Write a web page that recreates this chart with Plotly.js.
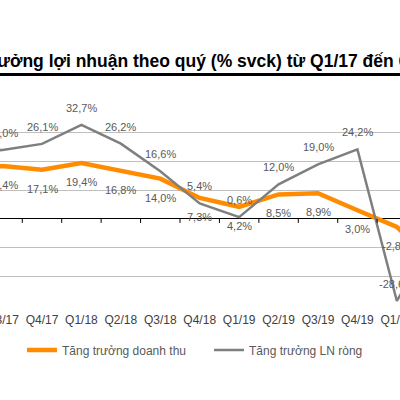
<!DOCTYPE html>
<html>
<head>
<meta charset="utf-8">
<script src="https://cdn.plot.ly/plotly-3.0.1.min.js"></script>
<style>
html,body{margin:0;padding:0;background:#fff;}
#wrap{position:relative;width:400px;height:400px;overflow:hidden;}
#chart{position:absolute;left:-140px;top:0;width:620px;height:400px;}
</style>
</head>
<body>
<div id="wrap"><div id="chart"></div></div>
<script>
const categories = ["Q1/17","Q2/17","Q3/17","Q4/17","Q1/18","Q2/18","Q3/18","Q4/18","Q1/19","Q2/19","Q3/19","Q4/19","Q1/20","Q2/20"];
const revenueGrowth = [15.0, 17.5, 18.4, 17.1, 19.4, 16.8, 14.0, 7.3, 4.2, 8.5, 8.9, 3.0, -2.8, -16.0];
const profitGrowth  = [20.0, 23.0, 24.0, 26.1, 32.7, 26.2, 16.6, 5.4, 0.6, 12.0, 19.0, 24.2, -28.6, -5.0];
const seriesNames = ["Tăng trưởng doanh thu", "Tăng trưởng LN ròng"];
const titleText = "Tăng trưởng lợi nhuận theo quý (% svck) từ Q1/17 đến Q2/20";

// layout geometry (div is offset -140px to reproduce the cropped view)
const W = 620, H = 400, OFF = 140;
const ML = 44, MR = 24, MT = 104, MB = 95;
const PW = W - ML - MR, PH = H - MT - MB;
const xp = px => (px + OFF - ML) / PW;   // crop px -> paper x
const yp = py => (MT + PH - py) / PH;    // crop px -> paper y

const fmt = v => v.toFixed(1).replace('.', ',') + '%';

const traces = [
  {x: categories, y: revenueGrowth, name: seriesNames[0], type: 'scatter', mode: 'lines',
   line: {color: '#FF8C00', width: 4.5}},
  {x: categories, y: profitGrowth, name: seriesNames[1], type: 'scatter', mode: 'lines',
   line: {color: '#7F7F7F', width: 2.5}}
];

const annotations = [];
categories.forEach((c, i) => {
  annotations.push({x: c, y: revenueGrowth[i], xref: 'x', yref: 'y', text: fmt(revenueGrowth[i]),
    showarrow: false, yshift: -19, font: {family: 'Liberation Sans, Arial', size: 11, color: '#595959'}});
  annotations.push({x: c, y: profitGrowth[i], xref: 'x', yref: 'y', text: fmt(profitGrowth[i]),
    showarrow: false, yshift: 17, font: {family: 'Liberation Sans, Arial', size: 11, color: '#595959'}});
});
annotations.push({x: xp(-64), y: yp(61), xref: 'paper', yref: 'paper', xanchor: 'left', yanchor: 'middle',
  text: '<b>' + titleText + '</b>', showarrow: false,
  font: {family: 'Liberation Sans, Arial', size: 17.5, color: '#000'}});

const shapes = [
  {type: 'line', xref: 'paper', yref: 'paper', x0: 0, x1: 1, y0: yp(74.5), y1: yp(74.5),
   line: {color: '#000', width: 3}}
];
for (let i = 0; i < categories.length - 1; i++) {
  shapes.push({type: 'line', xref: 'x', yref: 'y', x0: i + 0.5, x1: i + 0.5, y0: 0, y1: -1.4,
    line: {color: '#000', width: 1}});
}

const layout = {
  width: W, height: H,
  margin: {l: ML, r: MR, t: MT, b: MB},
  paper_bgcolor: '#fff', plot_bgcolor: '#fff',
  showlegend: true,
  legend: {orientation: 'h', x: xp(22), y: yp(350), xanchor: 'left', yanchor: 'middle',
    font: {family: 'Liberation Sans, Arial', size: 12, color: '#595959'}, entrywidth: 142, entrywidthmode: 'pixels'},
  xaxis: {type: 'category', range: [-0.5, categories.length - 0.5], showgrid: false, zeroline: false,
    showline: false, ticks: '', tickfont: {family: 'Liberation Sans, Arial', size: 12, color: '#404040'},
    ticklabelstandoff: 6, fixedrange: true},
  yaxis: {range: [-30, 40], dtick: 10, showgrid: true, gridcolor: '#BFBFBF', gridwidth: 1,
    zeroline: true, zerolinecolor: '#000', zerolinewidth: 1, showticklabels: false, ticks: '', fixedrange: true},
  annotations: annotations,
  shapes: shapes
};

Plotly.newPlot('chart', traces, layout, {displayModeBar: false, staticPlot: true});
</script>
</body>
</html>
